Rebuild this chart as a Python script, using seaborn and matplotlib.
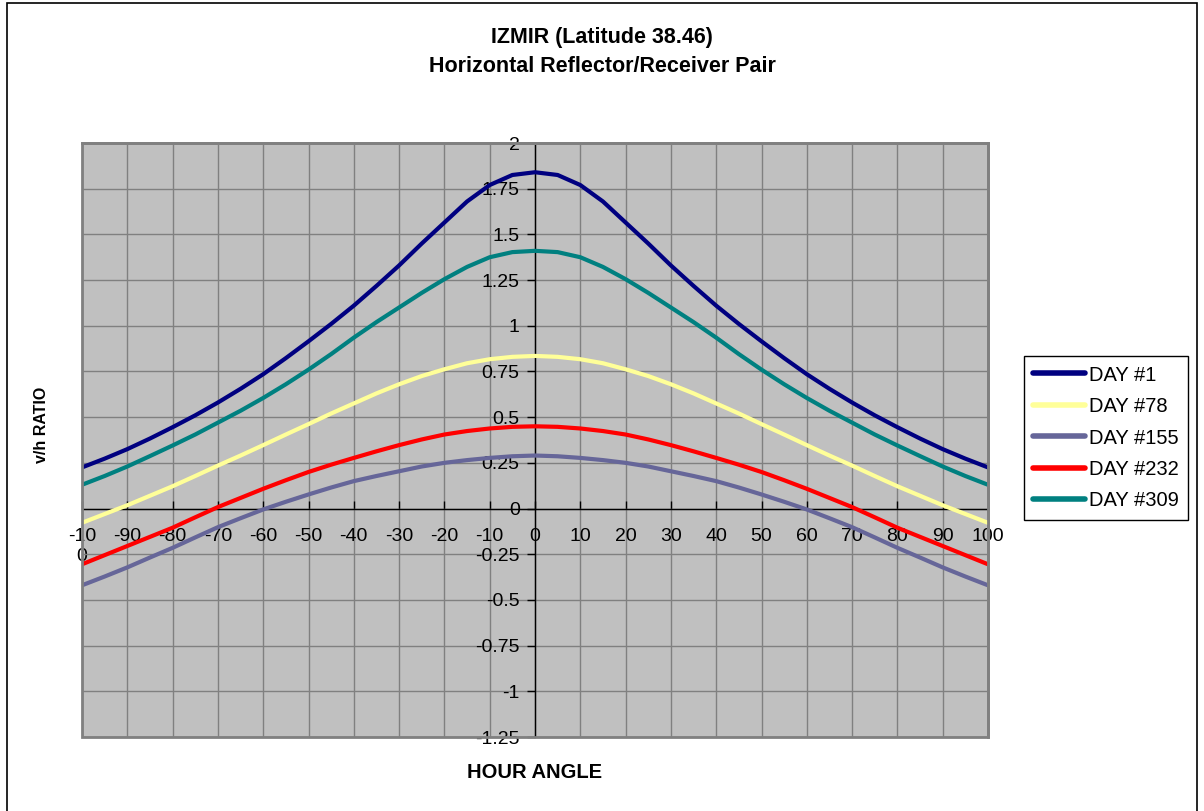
import matplotlib
matplotlib.use("Agg")
import matplotlib.pyplot as plt
from matplotlib.patches import Rectangle
import seaborn as sns
import pandas as pd

# ----- data (every 5 degrees) -----
hour_angle = list(range(-100, 101, 5))

day_1 = [0.225, 0.273, 0.325, 0.383, 0.445, 0.51, 0.58, 0.655, 0.735, 0.823, 0.915,
         1.01, 1.11, 1.218, 1.33, 1.45, 1.565, 1.68, 1.77, 1.825, 1.84,
         1.825, 1.77, 1.68, 1.565, 1.45, 1.33, 1.218, 1.11, 1.01,
         0.915, 0.823, 0.735, 0.655, 0.58, 0.51, 0.445, 0.383, 0.325, 0.273, 0.225]
day_78 = [-0.078, -0.03, 0.018, 0.07, 0.122, 0.178, 0.235, 0.29, 0.347, 0.405, 0.462,
          0.52, 0.575, 0.63, 0.68, 0.725, 0.762, 0.795, 0.817, 0.83, 0.835,
          0.83, 0.817, 0.795, 0.762, 0.725, 0.68, 0.63, 0.575, 0.52,
          0.462, 0.405, 0.347, 0.29, 0.235, 0.178, 0.122, 0.07, 0.018, -0.03, -0.078]
day_155 = [-0.42, -0.372, -0.322, -0.268, -0.215, -0.158, -0.102, -0.053, -0.005, 0.037, 0.077,
           0.115, 0.15, 0.178, 0.204, 0.23, 0.25, 0.265, 0.277, 0.286, 0.29,
           0.286, 0.277, 0.265, 0.25, 0.23, 0.204, 0.178, 0.15, 0.115,
           0.077, 0.037, -0.005, -0.053, -0.102, -0.158, -0.215, -0.268, -0.322, -0.372, -0.42]
day_232 = [-0.305, -0.255, -0.205, -0.155, -0.105, -0.048, 0.008, 0.058, 0.108, 0.155, 0.2,
           0.24, 0.277, 0.313, 0.347, 0.378, 0.405, 0.424, 0.438, 0.447, 0.45,
           0.447, 0.438, 0.424, 0.405, 0.378, 0.347, 0.313, 0.277, 0.24,
           0.2, 0.155, 0.108, 0.058, 0.008, -0.048, -0.105, -0.155, -0.205, -0.255, -0.305]
day_309 = [0.13, 0.178, 0.23, 0.287, 0.345, 0.405, 0.47, 0.535, 0.605, 0.68, 0.76,
           0.845, 0.935, 1.02, 1.10, 1.18, 1.255, 1.322, 1.375, 1.403, 1.41,
           1.403, 1.375, 1.322, 1.255, 1.18, 1.10, 1.02, 0.935, 0.845,
           0.76, 0.68, 0.605, 0.535, 0.47, 0.405, 0.345, 0.287, 0.23, 0.178, 0.13]

series_names = ["DAY #1", "DAY #78", "DAY #155", "DAY #232", "DAY #309"]
series_values = [day_1, day_78, day_155, day_232, day_309]
colores = ["#000080", "#ffff99", "#666699", "#ff0000", "#008080"]

x_ticks = list(range(-100, 101, 10))
x_tick_labels = ["-10\n0"] + [str(v) for v in x_ticks[1:]]
y_ticks = [-1.25, -1, -0.75, -0.5, -0.25, 0, 0.25, 0.5, 0.75, 1, 1.25, 1.5, 1.75, 2]
y_tick_labels = [f"{v:g}" for v in y_ticks]

df = pd.concat([pd.DataFrame({"hour": hour_angle, "ratio": vals, "serie": name})
                for name, vals in zip(series_names, series_values)], ignore_index=True)

# ----- figure -----
sns.set_theme(style="white")
plt.rcParams["font.family"] = ["Liberation Sans", "DejaVu Sans"]
plt.rcParams["text.color"] = "black"

fig = plt.figure(figsize=(12.04, 8.11), dpi=100)
ax = fig.add_axes([82 / 1204, 1 - 737 / 811, 906 / 1204, 594 / 811])
ax.set_facecolor("#c0c0c0")

sns.lineplot(data=df, x="hour", y="ratio", hue="serie", hue_order=series_names,
             palette=dict(zip(series_names, colores)), lw=3, sort=False,
             estimator=None, ax=ax, zorder=3)

ax.set_xlim(-100, 100)
ax.set_ylim(-1.25, 2)
ax.set_xticks(x_ticks)
ax.set_xticklabels(x_tick_labels)
ax.set_yticks(y_ticks)
ax.set_yticklabels(y_tick_labels)
ax.grid(True, color="#808080", lw=1)
ax.set_axisbelow(True)

# axes crossing at zero, Excel style
ax.spines["left"].set_position(("data", 0))
ax.spines["bottom"].set_position(("data", 0))
for s in ["left", "bottom"]:
    ax.spines[s].set_color("black")
    ax.spines[s].set_linewidth(1)
    ax.spines[s].set_zorder(2.5)
for s in ["top", "right"]:
    ax.spines[s].set_color("#808080")
    ax.spines[s].set_linewidth(2)
ax.add_patch(Rectangle((0, 0), 1, 1, transform=ax.transAxes, fill=False,
                       ec="#808080", lw=2, clip_on=False, zorder=4))
ax.tick_params(axis="y", direction="out", length=6, width=1, color="black", pad=5,
               left=True, labelsize=14, labelcolor="black")
ax.tick_params(axis="x", direction="in", length=6, width=1, color="black", pad=14,
               bottom=True, labelsize=14, labelcolor="black")
ax.set_xlabel("")
ax.set_ylabel("")

handles, labels = ax.get_legend_handles_labels()
ax.get_legend().remove()
leg = fig.legend(handles, labels, loc="center left",
                 bbox_to_anchor=(1024 / 1204, 1 - 438 / 811), fontsize=14.5,
                 frameon=True, fancybox=False, edgecolor="black", framealpha=1,
                 handlelength=2.6, handletextpad=0.2, labelspacing=0.62,
                 borderpad=0.45, borderaxespad=0)
leg.get_frame().set_linewidth(1)
for h in leg.get_lines():
    h.set_linewidth(4)

fig.text(0.5, 1 - 38 / 811, "IZMIR (Latitude 38.46)", ha="center", va="center",
         fontsize=15.5, fontweight="bold")
fig.text(0.5, 1 - 67 / 811, "Horizontal Reflector/Receiver Pair", ha="center", va="center",
         fontsize=15.5, fontweight="bold")
fig.text(535 / 1204, 1 - 772 / 811, "HOUR ANGLE", ha="center", va="center",
         fontsize=14.5, fontweight="bold")
fig.text(42 / 1204, 1 - 425 / 811, "v/h RATIO", ha="center", va="center",
         rotation=90, fontsize=11.5, fontweight="bold")

# outer chart border
fig.patches.append(Rectangle((7 / 1204, -0.01), 1190 / 1204, 1.01 - 3 / 811,
                             transform=fig.transFigure, fill=False, ec="black", lw=1.2))

plt.savefig("out.png", dpi=100)
plt.close()
